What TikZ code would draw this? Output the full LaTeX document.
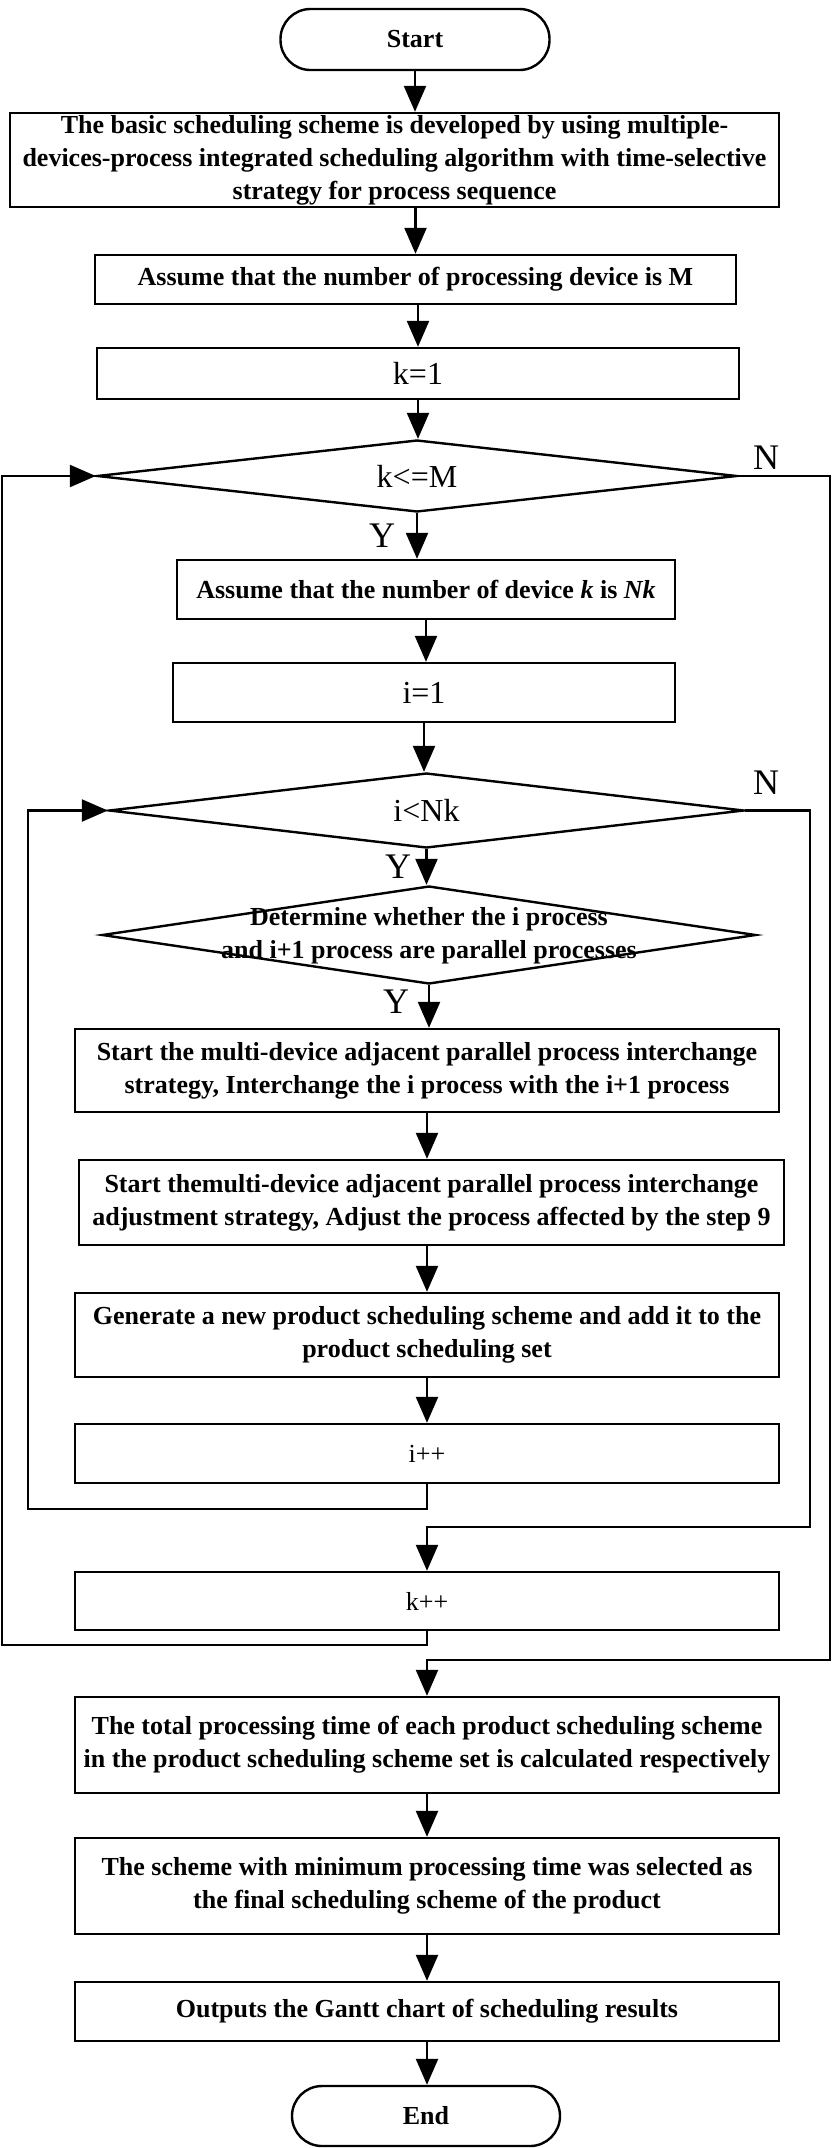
\documentclass[tikz,border=0pt]{standalone}
\usepackage{fontspec}
\setmainfont{Liberation Serif}
\usetikzlibrary{shapes.geometric,arrows.meta}
\newcommand\nfont{\fontsize{26}{33}\selectfont\bfseries}
\newcommand\plainfnt{\fontsize{26}{33}\selectfont}
\newcommand\bigfnt{\fontsize{32}{38}\selectfont}
\newcommand\labfnt{\fontsize{36}{40}\selectfont}
\tikzset{
  box/.style={draw, line width=2.4pt, rectangle, inner sep=0pt, align=center, font=\nfont},
  term/.style={box, rounded corners=30pt},
  dia/.style={draw, line width=2.4pt, diamond, inner sep=0pt},
  txt/.style={inner sep=0pt, align=center, font=\nfont},
  lab/.style={inner sep=0pt, font=\labfnt},
  arr/.style={line width=2.4pt, -{Triangle[length=26pt,width=22pt]}},
}
\begin{document}
\begin{tikzpicture}[x=1pt,y=-1pt]
\useasboundingbox (0,0) rectangle (832,2148);
% nodes
\node[term, minimum width=269pt, minimum height=61pt] (start) at (415,39.5) {Start};
\node[box, minimum width=769pt, minimum height=94pt] (b1) at (394.5,160)
  {The basic scheduling scheme is developed by using multiple-\\devices-process integrated scheduling algorithm with time-selective\\strategy for process sequence};
\node[box, minimum width=641pt, minimum height=49pt] (b2) at (415.5,279.5)
  {Assume that the number of processing device is M};
\node[box, minimum width=642pt, minimum height=51pt, font=\bigfnt] (b3) at (418,373.5) {k=1};
\node[dia, minimum width=640pt, minimum height=72pt] (d1) at (417,476) {};
\node[txt, font=\bigfnt] (d1t) at (417,476) {k<=M};
\node[box, minimum width=498pt, minimum height=59pt] (b4) at (426,589.5)
  {Assume that the number of device \textit{k} is \textit{Nk}};
\node[box, minimum width=502pt, minimum height=59pt, font=\bigfnt] (b5) at (424,692.5) {i=1};
\node[dia, minimum width=635pt, minimum height=75pt] (d2) at (426.5,810.5) {};
\node[txt, font=\bigfnt] (d2t) at (426.5,810.5) {i<Nk};
\node[dia, minimum width=654pt, minimum height=98pt] (d3) at (429,935) {};
\node[txt] (d3t) at (429,936) {Determine whether the i process\\and i+1 process are parallel processes};
\node[box, minimum width=704pt, minimum height=83pt] (b6) at (427,1070.5)
  {Start the multi-device adjacent parallel process interchange\\strategy, Interchange the i process with the i+1 process};
\node[box, minimum width=705pt, minimum height=85pt] (b7) at (431.5,1202.5)
  {Start themulti-device adjacent parallel process interchange\\adjustment strategy, Adjust the process affected by the step 9};
\node[box, minimum width=704pt, minimum height=84pt] (b8) at (427,1335)
  {Generate a new product scheduling scheme and add it to the\\product scheduling set};
\node[box, minimum width=704pt, minimum height=59pt, font=\plainfnt] (b9) at (427,1453.5) {i++};
\node[box, minimum width=704pt, minimum height=58pt, font=\plainfnt] (b10) at (427,1601) {k++};
\node[box, minimum width=704pt, minimum height=96pt] (b11) at (427,1745)
  {The total processing time of each product scheduling scheme\\in the product scheduling scheme set is calculated respectively};
\node[box, minimum width=704pt, minimum height=96pt] (b12) at (427,1886)
  {The scheme with minimum processing time was selected as\\the final scheduling scheme of the product};
\node[box, minimum width=704pt, minimum height=59pt] (b13) at (427,2011.5)
  {Outputs the Gantt chart of scheduling results};
\node[term, minimum width=268pt, minimum height=60pt] (end) at (426,2116) {End};
% labels
\node[lab] (n1) at (766,458) {N};
\node[lab] (y1) at (382,536) {Y};
\node[lab] (n2) at (766,783) {N};
\node[lab] (y2) at (398,867) {Y};
\node[lab] (y3) at (396,1002) {Y};
% loop coordinates
\coordinate (innerL) at (28,1509);
\coordinate (innerR) at (810,1527);
\coordinate (outerL) at (2,1645);
\coordinate (outerR) at (830,1660);
% main arrows
\draw[arr] (start.south) -- (start.south |- b1.north);
\draw[arr] (b2.north |- b1.south) -- (b2.north);
\draw[arr] (b3.north |- b2.south) -- (b3.north);
\draw[arr] (b3.south) -- (b3.south |- d1.north);
\draw[arr] (d1.south) -- (d1.south |- b4.north);
\draw[arr] (b4.south) -- (b4.south |- b5.north);
\draw[arr] (b5.south) -- (b5.south |- d2.north);
\draw[arr] (d2.south) -- (d2.south |- d3.north);
\draw[arr] (d3.south) -- (d3.south |- b6.north);
\draw[arr] (b6.south) -- (b6.south |- b7.north);
\draw[arr] (b8.north |- b7.south) -- (b8.north);
\draw[arr] (b8.south) -- (b8.south |- b9.north);
\draw[arr] (b11.south) -- (b11.south |- b12.north);
\draw[arr] (b12.south) -- (b12.south |- b13.north);
\draw[arr] (b13.south) -- (b13.south |- end.north);
% loops
\draw[arr] (b9.south) |- (innerL) |- (d2.west);
\draw[arr] (d2.east) -| (innerR) -| (b10.north);
\draw[arr] (b10.south) |- (outerL) |- (d1.west);
\draw[arr] (d1.east) -| (outerR) -| (b11.north);
\end{tikzpicture}
\end{document}
